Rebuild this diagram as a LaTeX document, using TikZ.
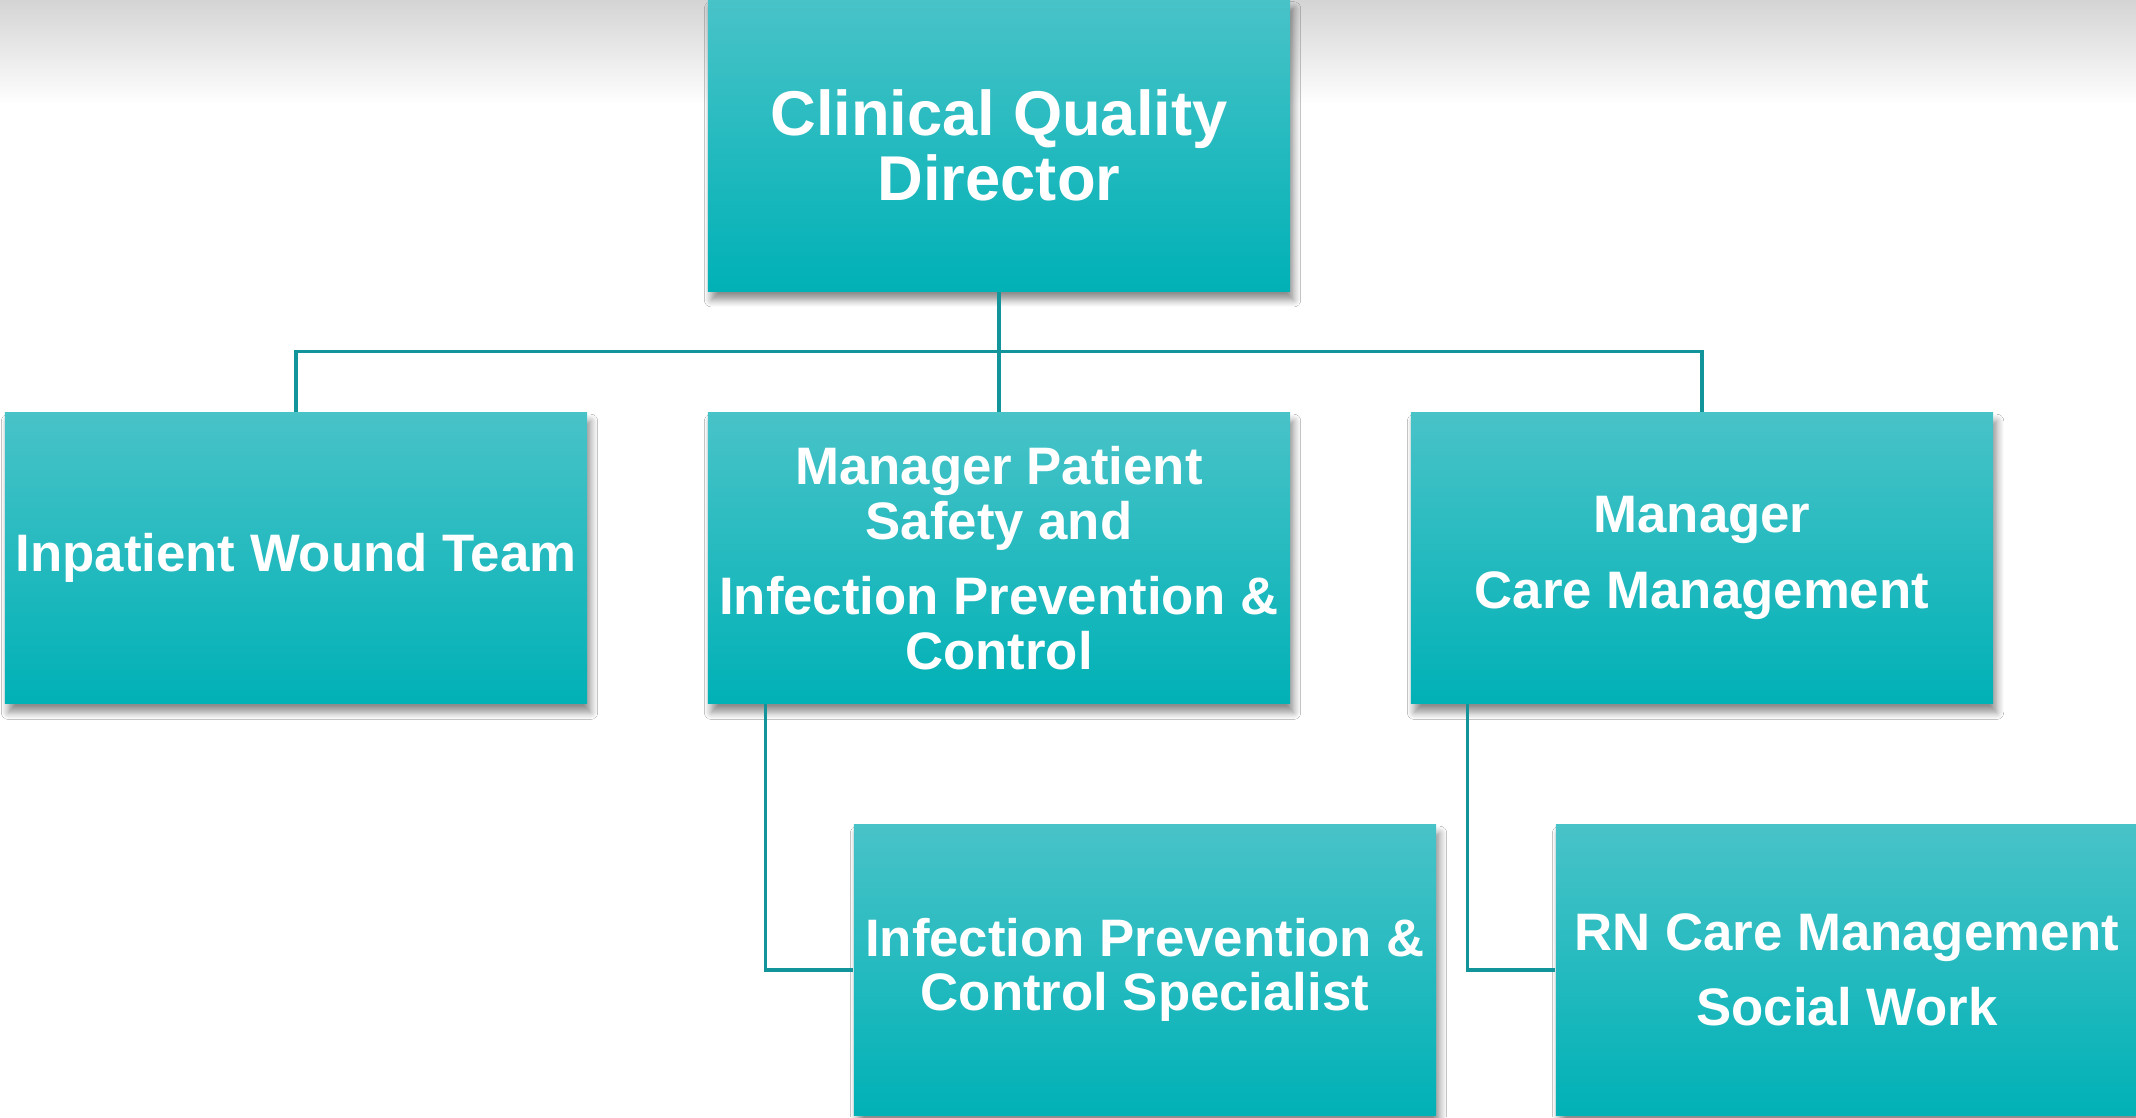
\documentclass[tikz,border=0pt]{standalone}
\usepackage{fontspec}
\setmainfont{Liberation Sans}
\usetikzlibrary{shadows.blur}

\definecolor{boxtop}{HTML}{48C3C8}
\definecolor{boxmid}{HTML}{02BFC4}
\definecolor{boxbot}{HTML}{00B1B6}
\definecolor{linkteal}{HTML}{12959A}
\definecolor{topgrey}{HTML}{D4D4D4}

\begin{document}
\begin{tikzpicture}[x=0.01cm,y=-0.01cm,
  orgbox/.style={rectangle, inner sep=0pt, minimum width=5.82cm, minimum height=2.91cm,
    top color=boxtop, middle color=boxmid, bottom color=boxbot, text=white, align=center,
    font=\fontsize{15}{15.5}\selectfont\bfseries,
    blur shadow={shadow xshift=1pt, shadow yshift=-2.5pt, shadow blur radius=2pt,
      shadow blur steps=8, shadow opacity=45}},
  link/.style={draw=linkteal, line width=0.9pt}]
\useasboundingbox (0,0) rectangle (2136,1117);
\fill[white] (0,0) rectangle (2136,1117);
\shade[top color=topgrey, bottom color=white] (0,0) rectangle (2136,105);

% top level
\node[orgbox, font=\fontsize{18}{18.5}\selectfont\bfseries] (director) at (999,145.5) {Clinical Quality\\Director};

% second row
\node[orgbox] (wound)  at (296,558)  {Inpatient Wound Team};
\node[orgbox] (safety) at (999,558)  {Manager Patient\\Safety and\\[6pt]Infection Prevention \&\\Control};
\node[orgbox] (care)   at (1702,558) {Manager\\[6pt]Care Management};

% third row
\node[orgbox] (ipc) at (1145,970) {Infection Prevention \&\\Control Specialist};
\node[orgbox] (rn)  at (1847,970) {RN Care Management\\[6pt]Social Work};

\draw[link] (director.south) -- ++(0,60) -| (wound.north);
\draw[link] (director.south) -- (safety.north);
\draw[link] (director.south) -- ++(0,60) -| (care.north);

\draw[link] ([xshift=0.58cm]safety.south west) |- (ipc.west);
\draw[link] ([xshift=0.57cm]care.south west) |- (rn.west);
\end{tikzpicture}
\end{document}
